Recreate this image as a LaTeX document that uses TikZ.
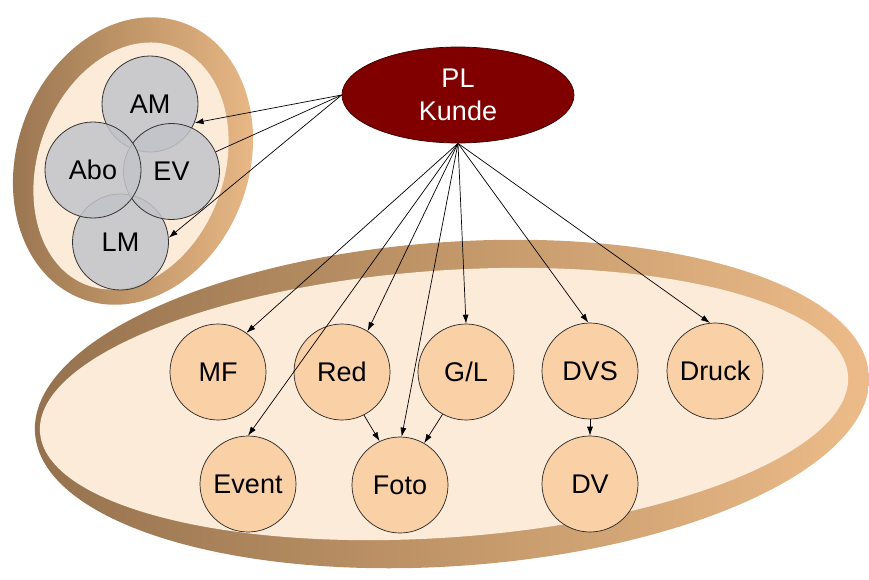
\documentclass[tikz,border=0pt]{standalone}
\usepackage{fontspec}
\setmainfont{Liberation Sans}
\usetikzlibrary{shapes.geometric,arrows.meta}
\definecolor{plred}{HTML}{800000}
\definecolor{pledge}{HTML}{3A0000}
\definecolor{peach}{HTML}{FAD0A6}
\definecolor{cream}{HTML}{FDEBD9}
\definecolor{grayc}{HTML}{C2C4C9}
\definecolor{ringdark}{HTML}{94714E}
\definecolor{ringmid}{HTML}{C29769}
\definecolor{ringlight}{HTML}{EDBC8A}
\begin{document}
\begin{tikzpicture}[x=1pt,y=1pt,
  lbl/.style={font=\fontsize{27}{33}\selectfont},
  graycirc/.style={circle, draw=black!80, line width=0.8pt, fill=grayc, fill opacity=0.85, text opacity=1, draw opacity=1, minimum size=96pt, inner sep=0pt, lbl},
  peachcirc/.style={circle, draw=black!85, line width=0.7pt, fill=peach, minimum size=96pt, inner sep=0pt, lbl},
  plnode/.style={ellipse, draw=pledge, line width=0.7pt, fill=plred, text=white, minimum width=232pt, minimum height=96pt, inner sep=0pt, align=center, lbl},
  conn/.style={-{Latex[length=9pt,width=6pt]}, line width=0.7pt, black},
  plainline/.style={line width=0.7pt, black}]
\useasboundingbox (0,0) rectangle (869,-579);
% big ring
\shade[rotate around={4:(452,-404)}, left color=ringdark, right color=ringlight, middle color=ringmid] (452,-404) ellipse [x radius=418, y radius=162];
\fill[cream, rotate around={4:(444,-404)}] (444,-404) ellipse [x radius=405, y radius=133.5];
% small ring
\shade[rotate around={-20:(133,-161)}, left color=ringdark, right color=ringlight, middle color=ringmid] (133,-161) ellipse [x radius=116, y radius=147];
\fill[cream, rotate around={-20:(131,-166)}] (131,-166) ellipse [x radius=93, y radius=127];
% gray circles
\node[graycirc] (LM)  at (120.5,-242) {LM};
\node[graycirc] (AM)  at (150,-104) {AM};
\node[graycirc] (EV)  at (171.5,-171.5) {EV};
\node[graycirc] (Abo) at (93,-170) {Abo};
% PL
\node[plnode] (PL) at (458,-95) {PL\\Kunde};
% peach circles
\node[peachcirc] (MF)    at (218,-372) {MF};
\node[peachcirc] (Red)   at (342,-372) {Red};
\node[peachcirc] (GL)    at (466,-372) {G/L};
\node[peachcirc] (DVS)   at (590,-371) {DVS};
\node[peachcirc] (Druck) at (715,-371) {Druck};
\node[peachcirc] (Event) at (248,-484) {Event};
\node[peachcirc] (Foto)  at (400,-485) {Foto};
\node[peachcirc] (DV)    at (590,-484) {DV};
% connectors
\draw[conn] (PL.west) -- (AM.-23);
\draw[plainline] (PL.west) -- (EV.24);
\draw[conn] (PL.west) -- (LM.5);
\draw[conn] (PL.south) -- (MF.54);
\draw[conn] (PL.south) -- (Red.58);
\draw[conn] (PL.south) -- (GL.90);
\draw[conn] (PL.south) -- (DVS.92);
\draw[conn] (PL.south) -- (Druck.96);
\draw[conn] (PL.south) -- (Event.90);
\draw[conn] (PL.south) -- (Foto.88);
\draw[conn] (Red.-63) -- (Foto.115);
\draw[conn] (GL.-119) -- (Foto.60);
\draw[conn] (DVS.south) -- (DV.north);
\end{tikzpicture}
\end{document}
